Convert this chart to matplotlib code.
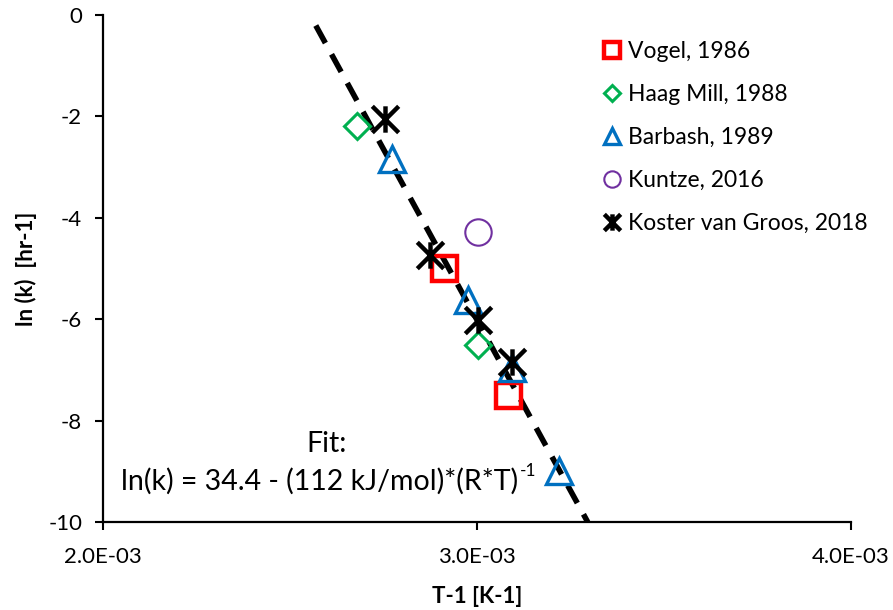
import numpy as np
import matplotlib.pyplot as plt
from matplotlib.path import Path

plt.rcParams['font.family'] = ['Lato', 'DejaVu Sans']
plt.rcParams['axes.unicode_minus'] = False

# ------------------- Data -------------------
vogel_x = [0.002912, 0.003083]
vogel_y = [-4.99, -7.50]

haag_x = [0.002679, 0.003003]
haag_y = [-2.18, -6.51]

barbash_x = [0.002773, 0.002976, 0.003094, 0.003219]
barbash_y = [-2.85, -5.62, -6.97, -8.99]

kuntze_x = [0.003003]
kuntze_y = [-4.28]

koster_x = [0.002754, 0.002874, 0.003003, 0.003094]
koster_y = [-2.06, -4.73, -6.02, -6.85]

# fit: ln(k) = 34.4 - (112 kJ/mol)/(R*T)
fit_a = 34.4
fit_ea = 112000.0
R = 8.314
fit_x = np.array([0.002569, 0.003296])
fit_y = fit_a - fit_ea / R * fit_x

# asterisk marker like the excel one: X plus a vertical bar
star = Path([(0, -1), (0, 1), (-1, -1), (1, 1), (-1, 1), (1, -1)],
            [Path.MOVETO, Path.LINETO, Path.MOVETO, Path.LINETO, Path.MOVETO, Path.LINETO])

# ------------------- Plot -------------------
fig = plt.figure(figsize=(8.93, 6.10), dpi=100)
ax = fig.add_axes([0.1153, 0.1443, 0.8377, 0.8311])

ax.plot(fit_x, fit_y, color='black', lw=4, dashes=(3.6, 2.3), zorder=1)

ax.plot(vogel_x, vogel_y, 's', ms=18, mfc='none', mec='#FF0000', mew=3.2, label='Vogel, 1986', zorder=3)
ax.plot(haag_x, haag_y, 'D', ms=13, mfc='none', mec='#00B050', mew=2.2, label='Haag Mill, 1988', zorder=3)
ax.plot(barbash_x, barbash_y, '^', ms=19, mfc='none', mec='#0070C0', mew=2.4, label='Barbash, 1989', zorder=3)
ax.plot(kuntze_x, kuntze_y, 'o', ms=19, mfc='none', mec='#7030A0', mew=1.5, label='Kuntze, 2016', zorder=3)
ax.plot(koster_x, koster_y, ls='none', marker=star, ms=19, mec='black', mew=3.2, label='Koster van Groos, 2018', zorder=4)

ax.set_xlim(0.002, 0.004)
ax.set_ylim(-10, 0)
ax.set_xticks([0.002, 0.003, 0.004])
ax.set_xticklabels(['2.0E-03', '3.0E-03', '4.0E-03'])
ax.set_yticks([0, -2, -4, -6, -8, -10])
ax.tick_params(labelsize=16, width=1.5, length=6, direction='out', pad=9, colors='black')
ax.tick_params(axis='x', pad=12)

for side in ['top', 'right']:
    ax.spines[side].set_visible(False)
for side in ['left', 'bottom']:
    ax.spines[side].set_linewidth(1.6)

ax.set_xlabel('T-1 [K-1]', fontsize=16, fontweight='bold', labelpad=14)
ax.set_ylabel('ln (k)  [hr-1]', fontsize=16, fontweight='bold', labelpad=8)

# fit equation, superscript drawn as a second smaller text
ax.text(0.002599, -8.47, 'Fit:', fontsize=20.5, ha='center', va='center')
eq = ax.text(0.002580, -9.2, 'ln(k) = 34.4 - (112 kJ/mol)*(R*T)', fontsize=20.5, ha='center', va='center')
fig.canvas.draw()
bb = eq.get_window_extent().transformed(ax.transData.inverted())
ax.text(bb.x1 + 0.000003, -8.99, '-1', fontsize=12.5, ha='left', va='center')

ax.legend(loc='upper left', bbox_to_anchor=(0.665, 0.948), bbox_transform=fig.transFigure,
          frameon=False, fontsize=16.5, markerscale=0.62, handlelength=0.8,
          handletextpad=0.3, labelspacing=0.96, borderaxespad=0)

fig.savefig('out.png', dpi=100)
